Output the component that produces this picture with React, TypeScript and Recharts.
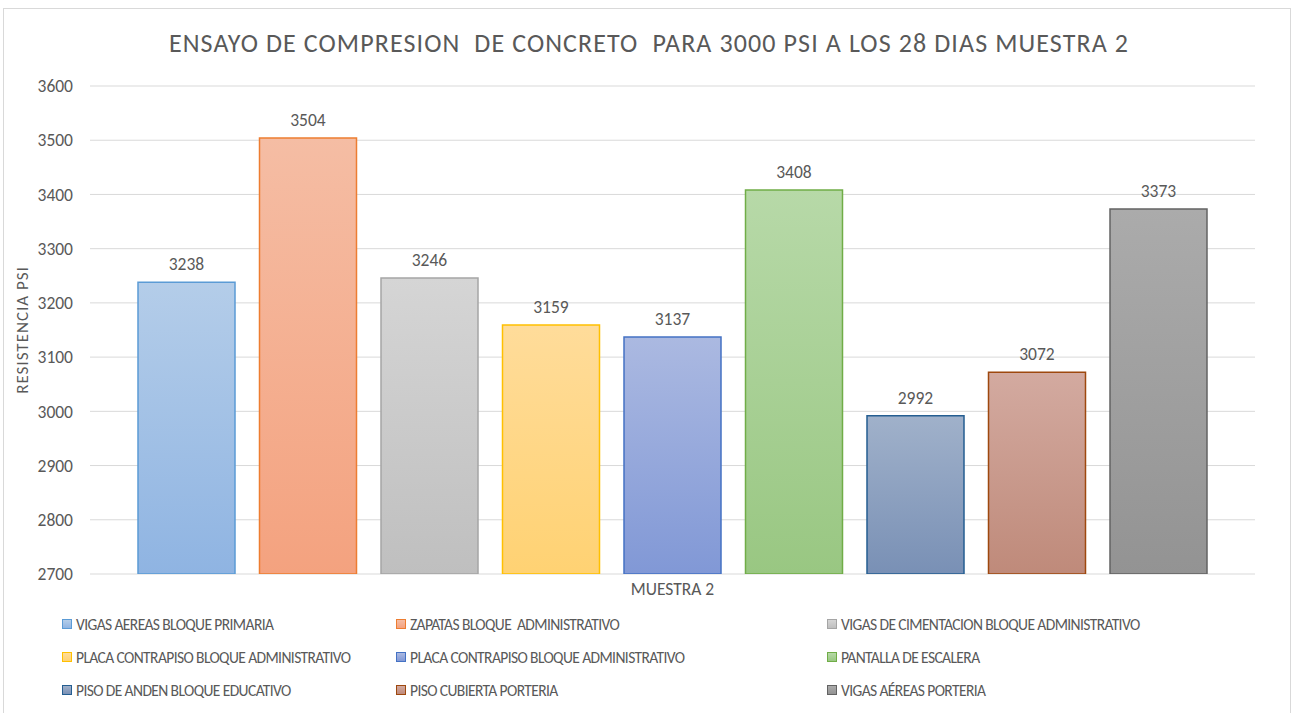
import React from "react";
import { BarChart, Bar, XAxis, YAxis, CartesianGrid, Legend, LabelList } from "recharts";

const categories = ["MUESTRA 2"];
const seriesNames = [
  "VIGAS AEREAS BLOQUE PRIMARIA",
  "ZAPATAS BLOQUE  ADMINISTRATIVO",
  "VIGAS DE CIMENTACION BLOQUE ADMINISTRATIVO",
  "PLACA CONTRAPISO BLOQUE ADMINISTRATIVO",
  "PLACA CONTRAPISO BLOQUE ADMINISTRATIVO",
  "PANTALLA DE ESCALERA",
  "PISO DE ANDEN BLOQUE EDUCATIVO",
  "PISO CUBIERTA PORTERIA",
  "VIGAS AÉREAS PORTERIA",
];
const seriesValues = [3238, 3504, 3246, 3159, 3137, 3408, 2992, 3072, 3373];
const yTicks = [2700, 2800, 2900, 3000, 3100, 3200, 3300, 3400, 3500, 3600];

const strokeColors = ["#5b9bd5", "#ed7d31", "#a5a5a5", "#ffc000", "#4472c4", "#70ad47", "#255e91", "#9e480e", "#636363"];
const topColors = ["#b4cde9", "#f5bda4", "#d5d5d5", "#ffdc9a", "#abb9e1", "#b7d9a8", "#a0b1ca", "#d3aaa0", "#ababab"];
const bottomColors = ["#8fb4e2", "#f4a27f", "#bfbfbf", "#ffd273", "#8198d6", "#99c782", "#7990b5", "#bf8a7a", "#939393"];

const FONT = 'Carlito, Calibri, Lato, sans-serif';
const TEXT = "#595959";

const data = categories.map((name) => {
  const row: Record<string, string | number> = { name };
  seriesValues.forEach((v, i) => {
    row["s" + i] = v;
  });
  return row;
});

const legendCols = [62, 396, 827];
const legendRows = [624, 657, 690];

function renderLegend() {
  return (
    <div style={{ position: "relative", width: 1294, height: 100 }}>
      {seriesNames.map((name, i) => {
        const col = i % 3;
        const row = Math.floor(i / 3);
        return (
          <div
            key={i}
            style={{
              position: "absolute",
              left: legendCols[col],
              top: legendRows[row] - 605 - 10,
              height: 20,
              display: "flex",
              alignItems: "center",
              whiteSpace: "pre",
              fontFamily: FONT,
              fontSize: 15.5,
              letterSpacing: -0.6,
              color: TEXT,
            }}
          >
            <span
              style={{
                display: "inline-block",
                width: 8,
                height: 8,
                marginRight: 4,
                border: `1px solid ${strokeColors[i]}`,
                background: `linear-gradient(${topColors[i]}, ${bottomColors[i]})`,
              }}
            />
            {name}
          </div>
        );
      })}
    </div>
  );
}

export default function App() {
  return (
    <div style={{ position: "absolute", left: 0, top: 0, width: 1294, height: 713, background: "#fff", overflow: "hidden" }}>
      <div
        style={{
          position: "absolute",
          left: 3,
          top: 8,
          width: 1286,
          height: 720,
          border: "1px solid #d9d9d9",
        }}
      />
      <div
        style={{
          position: "absolute",
          left: 0,
          top: 27,
          width: 1298,
          textAlign: "center",
          fontFamily: FONT,
          fontSize: 26,
          fontWeight: 300,
          letterSpacing: 1.1,
          color: TEXT,
          whiteSpace: "pre",
        }}
      >
        {"ENSAYO DE COMPRESION  DE CONCRETO  PARA 3000 PSI A LOS 28 DIAS MUESTRA 2"}
      </div>
      <div style={{ position: "absolute", left: 0, top: 0 }}>
        <BarChart
          width={1294}
          height={713}
          data={data}
          margin={{ top: 86, right: 39, bottom: 109, left: 30 }}
          barCategoryGap={48}
          barGap={24.5}
        >
          <defs>
            {strokeColors.map((_, i) => (
              <linearGradient key={i} id={"g" + i} x1="0" y1="0" x2="0" y2="1">
                <stop offset="0%" stopColor={topColors[i]} />
                <stop offset="100%" stopColor={bottomColors[i]} />
              </linearGradient>
            ))}
          </defs>
          <CartesianGrid vertical={false} stroke="#d9d9d9" strokeWidth={1} />
          <XAxis
            dataKey="name"
            height={30}
            axisLine={false}
            tickLine={false}
            tickMargin={3}
            tick={{ fill: TEXT, fontSize: 17.5, fontFamily: FONT }}
          />
          <YAxis
            width={60}
            domain={[2700, 3600]}
            ticks={yTicks}
            allowDataOverflow
            axisLine={false}
            tickLine={false}
            tickMargin={11}
            tick={{ fill: TEXT, fontSize: 17.5, fontFamily: FONT }}
            label={{
              value: "RESISTENCIA PSI",
              angle: -90,
              position: "insideLeft",
              offset: -8,
              style: { fill: TEXT, fontSize: 17, letterSpacing: 1, fontFamily: FONT, textAnchor: "middle" },
            }}
          />
          <Legend
            layout="vertical"
            align="center"
            verticalAlign="middle"
            wrapperStyle={{ left: 0, top: 605, width: 1294, height: 100 }}
            content={renderLegend}
          />
          {seriesValues.map((_, i) => (
            <Bar
              key={i}
              dataKey={"s" + i}
              name={seriesNames[i]}
              fill={`url(#g${i})`}
              stroke={strokeColors[i]}
              strokeWidth={1.5}
              isAnimationActive={false}
            >
              <LabelList
                dataKey={"s" + i}
                position="top"
                offset={12}
                fill={TEXT}
                fontSize={17.5}
                fontFamily={FONT}
              />
            </Bar>
          ))}
        </BarChart>
      </div>
    </div>
  );
}
